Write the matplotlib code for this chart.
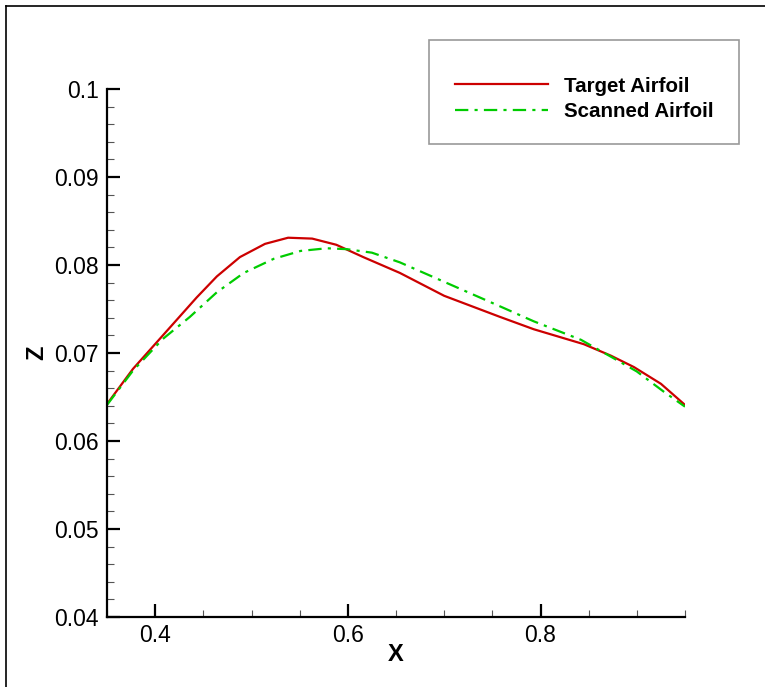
import matplotlib
matplotlib.use("Agg")
import matplotlib.pyplot as plt
from matplotlib.lines import Line2D
from matplotlib.patches import Rectangle
from matplotlib.ticker import MultipleLocator

# target airfoil (red)
x_target = [0.35, 0.377, 0.408, 0.443, 0.464, 0.488, 0.514, 0.538, 0.563, 0.588,
            0.616, 0.654, 0.70, 0.758, 0.793, 0.845, 0.873, 0.897, 0.925, 0.95]
z_target = [0.0642, 0.0682, 0.0720, 0.0763, 0.0787, 0.0809, 0.0824, 0.0831, 0.0830, 0.0823,
            0.0809, 0.0791, 0.0765, 0.0741, 0.0727, 0.0710, 0.0697, 0.0684, 0.0665, 0.0641]

# scanned airfoil (green)
x_scan = [0.35, 0.377, 0.408, 0.436, 0.464, 0.492, 0.523, 0.551, 0.578, 0.599,
          0.625, 0.654, 0.706, 0.758, 0.793, 0.842, 0.876, 0.900, 0.928, 0.95]
z_scan = [0.0641, 0.0680, 0.0716, 0.0741, 0.0769, 0.0791, 0.0807, 0.0816, 0.0819, 0.0818,
          0.0814, 0.0803, 0.0778, 0.0753, 0.0736, 0.0715, 0.0694, 0.0679, 0.0656, 0.0639]

labels = ["Target Airfoil", "Scanned Airfoil"]
x_ticks = [0.4, 0.6, 0.8]
x_ticklabels = ["0.4", "0.6", "0.8"]
z_ticks = [0.04, 0.05, 0.06, 0.07, 0.08, 0.09, 0.1]
z_ticklabels = ["0.04", "0.05", "0.06", "0.07", "0.08", "0.09", "0.1"]

plt.rcParams['font.family'] = ['Liberation Sans', 'DejaVu Sans']

W, H = 765, 687
fig = plt.figure(figsize=(W / 100, H / 100), dpi=100)
ax = fig.add_axes([107 / W, 70 / H, 578 / W, 528 / H])

red = '#CC0000'
green = '#00CC00'
dashdot = (0, (6.0, 2.8, 1.4, 2.8))

ax.plot(x_target, z_target, color=red, lw=1.6, label=labels[0])
ax.plot(x_scan, z_scan, color=green, lw=1.6, linestyle=dashdot, label=labels[1])

ax.set_xlim(0.35, 0.95)
ax.set_ylim(0.04, 0.1)
ax.set_xticks(x_ticks)
ax.set_xticklabels(x_ticklabels)
ax.set_yticks(z_ticks)
ax.set_yticklabels(z_ticklabels)
ax.xaxis.set_minor_locator(MultipleLocator(0.05))
ax.yaxis.set_minor_locator(MultipleLocator(0.002))

for s in ['top', 'right']:
    ax.spines[s].set_visible(False)
for s in ['left', 'bottom']:
    ax.spines[s].set_linewidth(1.6)

ax.tick_params(which='major', direction='in', length=9.5, width=1.6, labelsize=16.5)
ax.tick_params(axis='x', which='major', pad=5)
ax.tick_params(axis='y', which='major', pad=6)
ax.tick_params(which='minor', direction='in', length=5, width=0.8, color='#555555')

ax.set_xlabel("X", fontsize=17, fontweight='bold', labelpad=-3)
ax.set_ylabel("Z", fontsize=17, fontweight='bold', labelpad=4)

# legend: frameless, box drawn separately in pixel coords
leg = ax.legend(loc='upper left', bbox_to_anchor=(455 / W, 1 - 76.5 / H),
                bbox_transform=fig.transFigure, frameon=False,
                prop={'size': 14.8, 'weight': 'bold'},
                handlelength=4.5, handletextpad=0.78, borderpad=0,
                labelspacing=0.31, borderaxespad=0)
fig.add_artist(Rectangle((429 / W, 1 - 144 / H), 310 / W, 104 / H,
                         transform=fig.transFigure, fill=False,
                         edgecolor='#999999', lw=1.2))

# outer frame (left and top edges)
fig.add_artist(Line2D([6 / W, 6 / W], [0, 1 - 6 / H], color='black', lw=1.2,
                      transform=fig.transFigure))
fig.add_artist(Line2D([6 / W, 1], [1 - 6 / H, 1 - 6 / H], color='black', lw=1.2,
                      transform=fig.transFigure))

fig.savefig("out.png", dpi=100)
